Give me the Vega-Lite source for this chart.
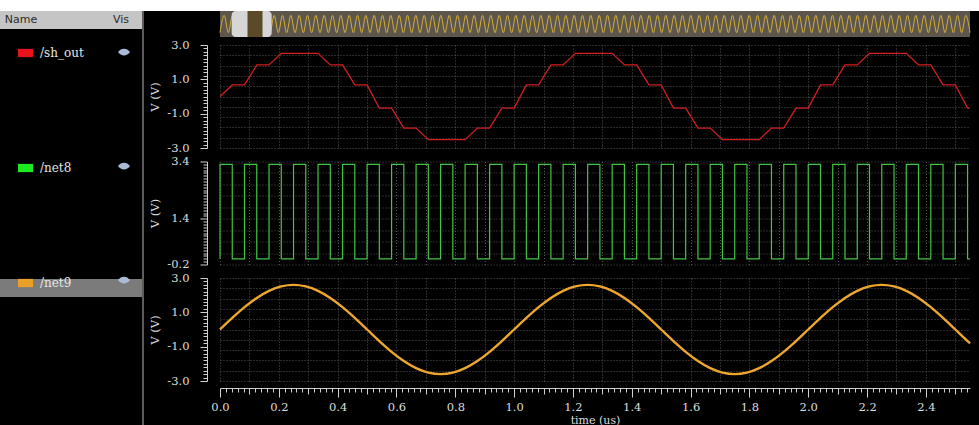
{
"$schema": "https://vega.github.io/schema/vega-lite/v6.json",
"background": "#000000",
"padding": 0,
"spacing": 0,
"bounds": "flush",
"config": {
  "view": {"stroke": null},
  "axis": {"labelFont": "DejaVu Serif", "labelFontSize": 11.5, "labelColor": "#dddddd", "titleFont": "DejaVu Serif", "titleFontSize": 11.5, "titleFontWeight": "normal", "titleColor": "#dddddd", "domainColor": "#d0d0d0", "tickColor": "#d0d0d0", "gridColor": "#555555", "gridDash": [1, 2], "gridWidth": 1}
},
"vconcat": [
  {"width": 979, "height": 11, "view": {"fill": "#ffffff", "stroke": null}, "data": {"values": [{}]}, "mark": {"type": "point", "opacity": 0}},
  {"hconcat": [
    {"width": 143, "height": 414, "view": {"fill": "#000000", "stroke": null},
     "layer": [
       {"data": {"values": [{"row": "Name"}]}, "mark": {"type": "rect", "color": "#c5c5c5"},
        "encoding": {"y": {"field": "row", "type": "nominal", "scale": {"type": "band", "domain": ["Name", "/sh_out", "/net8", "/net9"], "range": [0, 286], "paddingInner": 0.7985, "paddingOuter": 0}, "axis": null}}},
       {"data": {"values": [{"row": "/net9"}]}, "mark": {"type": "rect", "color": "#7b7b7b"},
        "encoding": {"y": {"field": "row", "type": "nominal", "axis": null}}},
       {"data": {"values": [{"row": "Name", "h": "Name"}, {"row": "Name", "h": "Vis"}]},
        "mark": {"type": "text", "font": "DejaVu Sans", "fontSize": 11, "color": "#2b2b2b"},
        "encoding": {"y": {"field": "row", "type": "nominal", "axis": null}, "x": {"field": "h", "type": "nominal", "scale": {"type": "point", "range": [21, 121], "padding": 0}, "axis": null}, "text": {"field": "h"}}},
       {"data": {"values": [{}]}, "mark": {"type": "rule", "color": "#5c5c5c", "strokeWidth": 2}, "encoding": {"x": {"value": "width"}}}
     ]},
    {"vconcat": [
      {"width": 750, "height": 26, "view": {"fill": "#5e564c", "stroke": null},
       "layer": [
        {"data": {"values": [
{"k":0,"v":-1},{"k":0.5,"v":1},{"k":1,"v":-1},{"k":1.5,"v":1},{"k":2,"v":-1},{"k":2.5,"v":1},{"k":3,"v":-1},{"k":3.5,"v":1},{"k":4,"v":-1},{"k":4.5,"v":1},
{"k":5,"v":-1},{"k":5.5,"v":1},{"k":6,"v":-1},{"k":6.5,"v":1},{"k":7,"v":-1},{"k":7.5,"v":1},{"k":8,"v":-1},{"k":8.5,"v":1},{"k":9,"v":-1},{"k":9.5,"v":1},
{"k":10,"v":-1},{"k":10.5,"v":1},{"k":11,"v":-1},{"k":11.5,"v":1},{"k":12,"v":-1},{"k":12.5,"v":1},{"k":13,"v":-1},{"k":13.5,"v":1},{"k":14,"v":-1},{"k":14.5,"v":1},
{"k":15,"v":-1},{"k":15.5,"v":1},{"k":16,"v":-1},{"k":16.5,"v":1},{"k":17,"v":-1},{"k":17.5,"v":1},{"k":18,"v":-1},{"k":18.5,"v":1},{"k":19,"v":-1},{"k":19.5,"v":1},
{"k":20,"v":-1},{"k":20.5,"v":1},{"k":21,"v":-1},{"k":21.5,"v":1},{"k":22,"v":-1},{"k":22.5,"v":1},{"k":23,"v":-1},{"k":23.5,"v":1},{"k":24,"v":-1},{"k":24.5,"v":1},
{"k":25,"v":-1},{"k":25.5,"v":1},{"k":26,"v":-1},{"k":26.5,"v":1},{"k":27,"v":-1},{"k":27.5,"v":1},{"k":28,"v":-1},{"k":28.5,"v":1},{"k":29,"v":-1},{"k":29.5,"v":1},
{"k":30,"v":-1},{"k":30.5,"v":1},{"k":31,"v":-1},{"k":31.5,"v":1},{"k":32,"v":-1},{"k":32.5,"v":1},{"k":33,"v":-1},{"k":33.5,"v":1},{"k":34,"v":-1},{"k":34.5,"v":1},
{"k":35,"v":-1},{"k":35.5,"v":1},{"k":36,"v":-1},{"k":36.5,"v":1},{"k":37,"v":-1},{"k":37.5,"v":1},{"k":38,"v":-1},{"k":38.5,"v":1},{"k":39,"v":-1},{"k":39.5,"v":1},
{"k":40,"v":-1},{"k":40.5,"v":1},{"k":41,"v":-1},{"k":41.5,"v":1},{"k":42,"v":-1},{"k":42.5,"v":1},{"k":43,"v":-1},{"k":43.5,"v":1},{"k":44,"v":-1},{"k":44.5,"v":1},
{"k":45,"v":-1},{"k":45.5,"v":1},{"k":46,"v":-1},{"k":46.5,"v":1},{"k":47,"v":-1},{"k":47.5,"v":1},{"k":48,"v":-1},{"k":48.5,"v":1},{"k":49,"v":-1},{"k":49.5,"v":1},
{"k":50,"v":-1},{"k":50.5,"v":1},{"k":51,"v":-1},{"k":51.5,"v":1},{"k":52,"v":-1},{"k":52.5,"v":1},{"k":53,"v":-1},{"k":53.5,"v":1},{"k":54,"v":-1},{"k":54.5,"v":1},
{"k":55,"v":-1},{"k":55.5,"v":1},{"k":56,"v":-1},{"k":56.5,"v":1},{"k":57,"v":-1},{"k":57.5,"v":1},{"k":58,"v":-1},{"k":58.5,"v":1},{"k":59,"v":-1},{"k":59.5,"v":1},
{"k":60,"v":-1},{"k":60.5,"v":1},{"k":61,"v":-1},{"k":61.5,"v":1},{"k":62,"v":-1},{"k":62.5,"v":1},{"k":63,"v":-1},{"k":63.5,"v":1},{"k":64,"v":-1},{"k":64.5,"v":1},
{"k":65,"v":-1},{"k":65.5,"v":1},{"k":66,"v":-1},{"k":66.5,"v":1},{"k":67,"v":-1},{"k":67.5,"v":1},{"k":68,"v":-1},{"k":68.5,"v":1},{"k":69,"v":-1},{"k":69.5,"v":1},
{"k":70,"v":-1},{"k":70.5,"v":1},{"k":71,"v":-1},{"k":71.5,"v":1},{"k":72,"v":-1},{"k":72.5,"v":1},{"k":73,"v":-1},{"k":73.5,"v":1},{"k":74,"v":-1},{"k":74.5,"v":1},
{"k":75,"v":-1},{"k":75.5,"v":1},{"k":76,"v":-1},{"k":76.5,"v":1},{"k":77,"v":-1},{"k":77.5,"v":1},{"k":78,"v":-1},{"k":78.5,"v":1},{"k":79,"v":-1},{"k":79.5,"v":1},
{"k":80,"v":-1},{"k":80.5,"v":1},{"k":81,"v":-1},{"k":81.5,"v":1},{"k":82,"v":-1},{"k":82.5,"v":1},{"k":83,"v":-1},{"k":83.5,"v":1},{"k":84,"v":-1},{"k":84.5,"v":1},
{"k":85,"v":-1},{"k":85.5,"v":1},{"k":86,"v":-1},{"k":86.5,"v":1},{"k":87,"v":-1},{"k":87.5,"v":1},{"k":88,"v":-1},{"k":88.5,"v":1},{"k":89,"v":-1},{"k":89.5,"v":1},
{"k":90,"v":-1}
        ]},
         "mark": {"type": "line", "color": "#cfae3a", "strokeWidth": 1, "interpolate": "monotone"},
         "encoding": {"x": {"field": "k", "type": "quantitative", "scale": {"domain": [0, 90], "nice": false, "zero": false}, "axis": null}, "y": {"field": "v", "type": "quantitative", "scale": {"domain": [-1.5, 1.5], "nice": false}, "axis": null}}},
        {"data": {"values": [{"a": 1.4, "b": 6.2}]}, "mark": {"type": "rect", "color": "#d6d6d6", "cornerRadius": 4}, "encoding": {"x": {"field": "a", "type": "quantitative"}, "x2": {"field": "b"}}},
        {"data": {"values": [{"a": 3.3, "b": 5.1}]}, "mark": {"type": "rect", "color": "#5b4a28"}, "encoding": {"x": {"field": "a", "type": "quantitative"}, "x2": {"field": "b"}}}
       ]},
      {"vconcat": [
          {"width": 750, "height": 103,
           "layer": [
            {"data": {"values": [
{"t":0,"v":0},{"t":0.04167,"v":0.673},{"t":0.08333,"v":0.673},{"t":0.125,"v":1.838},{"t":0.16667,"v":1.838},{"t":0.20833,"v":2.511},{"t":0.25,"v":2.511},{"t":0.29167,"v":2.511},{"t":0.33333,"v":2.511},{"t":0.375,"v":1.838},{"t":0.41667,"v":1.838},{"t":0.45833,"v":0.673},{"t":0.5,"v":0.673},{"t":0.54167,"v":-0.673},{"t":0.58333,"v":-0.673},{"t":0.625,"v":-1.838},{"t":0.66667,"v":-1.838},{"t":0.70833,"v":-2.511},{"t":0.75,"v":-2.511},{"t":0.79167,"v":-2.511},{"t":0.83333,"v":-2.511},{"t":0.875,"v":-1.838},{"t":0.91667,"v":-1.838},{"t":0.95833,"v":-0.673},{"t":1,"v":-0.673},
{"t":1.04167,"v":0.673},{"t":1.08333,"v":0.673},{"t":1.125,"v":1.838},{"t":1.16667,"v":1.838},{"t":1.20833,"v":2.511},{"t":1.25,"v":2.511},{"t":1.29167,"v":2.511},{"t":1.33333,"v":2.511},{"t":1.375,"v":1.838},{"t":1.41667,"v":1.838},{"t":1.45833,"v":0.673},{"t":1.5,"v":0.673},{"t":1.54167,"v":-0.673},{"t":1.58333,"v":-0.673},{"t":1.625,"v":-1.838},{"t":1.66667,"v":-1.838},{"t":1.70833,"v":-2.511},{"t":1.75,"v":-2.511},{"t":1.79167,"v":-2.511},{"t":1.83333,"v":-2.511},{"t":1.875,"v":-1.838},{"t":1.91667,"v":-1.838},{"t":1.95833,"v":-0.673},{"t":2,"v":-0.673},
{"t":2.04167,"v":0.673},{"t":2.08333,"v":0.673},{"t":2.125,"v":1.838},{"t":2.16667,"v":1.838},{"t":2.20833,"v":2.511},{"t":2.25,"v":2.511},{"t":2.29167,"v":2.511},{"t":2.33333,"v":2.511},{"t":2.375,"v":1.838},{"t":2.41667,"v":1.838},{"t":2.45833,"v":0.673},{"t":2.5,"v":0.673},{"t":2.54167,"v":-0.673},{"t":2.55,"v":-0.673}
            ]},
             "mark": {"type": "line", "color": "#d21e1e", "strokeWidth": 1.3},
             "encoding": {
               "x": {"field": "t", "type": "quantitative", "scale": {"domain": [0, 2.55], "nice": false, "zero": false}, "axis": {"title": null, "labels": false, "ticks": false, "domain": false, "tickCount": 26, "grid": true}},
               "y": {"field": "v", "type": "quantitative", "scale": {"domain": [-3, 3], "nice": false, "zero": false},
                     "axis": {"title": "V (V)", "offset": 13, "tickCount": 30, "labelOverlap": false, "labelBound": false, "labelPadding": 11, "titlePadding": 6,
                              "labelExpr": "abs((datum.value+3)/2-round((datum.value+3)/2))<0.01 ? replace(format(datum.value,'.1f'),'\u2212','-') : ''",
                              "tickSize": {"condition": {"test": "abs((datum.value+3)/2-round((datum.value+3)/2))<0.01", "value": 7}, "value": 4},
                              "gridOpacity": {"condition": {"test": "abs((datum.value+3)/0.6-round((datum.value+3)/0.6))<0.01", "value": 1}, "value": 0}}}}},
            {"data": {"values": [{"name": "/sh_out"}]}, "mark": {"type": "point", "filled": true, "opacity": 0},
             "encoding": {"color": {"field": "name", "type": "nominal", "scale": {"domain": ["/sh_out", "/net8", "/net9"], "range": ["#e8141c", "#1ee81e", "#e8a028"]},
               "legend": {"orient": "none", "legendX": 18, "legendY": 45.5, "title": null, "symbolType": "M-1,-0.55H1V0.55H-1Z", "symbolSize": 225, "symbolStrokeWidth": 0, "symbolOpacity": 1, "labelFont": "DejaVu Serif", "labelFontSize": 12, "labelColor": "#e6e6e6", "labelOffset": 7, "rowPadding": 101, "padding": 0}}}}
           ]},
          {"width": 750, "height": 103,
           "layer": [
            {"data": {"values": [
{"t":0,"v":0},{"t":0,"v":3.3},{"t":0.04167,"v":0},{"t":0.08333,"v":3.3},{"t":0.125,"v":0},{"t":0.16667,"v":3.3},{"t":0.20833,"v":0},{"t":0.25,"v":3.3},{"t":0.29167,"v":0},{"t":0.33333,"v":3.3},{"t":0.375,"v":0},{"t":0.41667,"v":3.3},{"t":0.45833,"v":0},{"t":0.5,"v":3.3},{"t":0.54167,"v":0},{"t":0.58333,"v":3.3},{"t":0.625,"v":0},{"t":0.66667,"v":3.3},{"t":0.70833,"v":0},{"t":0.75,"v":3.3},{"t":0.79167,"v":0},{"t":0.83333,"v":3.3},{"t":0.875,"v":0},{"t":0.91667,"v":3.3},{"t":0.95833,"v":0},
{"t":1,"v":3.3},{"t":1.04167,"v":0},{"t":1.08333,"v":3.3},{"t":1.125,"v":0},{"t":1.16667,"v":3.3},{"t":1.20833,"v":0},{"t":1.25,"v":3.3},{"t":1.29167,"v":0},{"t":1.33333,"v":3.3},{"t":1.375,"v":0},{"t":1.41667,"v":3.3},{"t":1.45833,"v":0},{"t":1.5,"v":3.3},{"t":1.54167,"v":0},{"t":1.58333,"v":3.3},{"t":1.625,"v":0},{"t":1.66667,"v":3.3},{"t":1.70833,"v":0},{"t":1.75,"v":3.3},{"t":1.79167,"v":0},{"t":1.83333,"v":3.3},{"t":1.875,"v":0},{"t":1.91667,"v":3.3},{"t":1.95833,"v":0},
{"t":2,"v":3.3},{"t":2.04167,"v":0},{"t":2.08333,"v":3.3},{"t":2.125,"v":0},{"t":2.16667,"v":3.3},{"t":2.20833,"v":0},{"t":2.25,"v":3.3},{"t":2.29167,"v":0},{"t":2.33333,"v":3.3},{"t":2.375,"v":0},{"t":2.41667,"v":3.3},{"t":2.45833,"v":0},{"t":2.5,"v":3.3},{"t":2.54167,"v":0},{"t":2.55,"v":0}
            ]},
             "mark": {"type": "line", "color": "#44c444", "strokeWidth": 1.2, "interpolate": "step-after"},
             "encoding": {
               "x": {"field": "t", "type": "quantitative", "scale": {"domain": [0, 2.55], "nice": false, "zero": false}, "axis": {"title": null, "labels": false, "ticks": false, "domain": false, "tickCount": 26, "grid": true}},
               "y": {"field": "v", "type": "quantitative", "scale": {"domain": [-0.2, 3.4], "nice": false, "zero": false},
                     "axis": {"title": "V (V)", "offset": 13, "tickCount": 36, "labelOverlap": false, "labelBound": false, "labelPadding": 11, "titlePadding": 6,
                              "labelExpr": "(abs(datum.value+0.2)<0.01||abs(datum.value-1.4)<0.01||abs(datum.value-3.4)<0.01) ? replace(format(datum.value,'.1f'),'\u2212','-') : ''",
                              "tickSize": {"condition": {"test": "abs(datum.value+0.2)<0.01||abs(datum.value-1.4)<0.01||abs(datum.value-3.4)<0.01", "value": 7}, "value": 4},
                              "gridOpacity": {"condition": {"test": "abs((datum.value+0.2)/0.4-round((datum.value+0.2)/0.4))<0.01", "value": 1}, "value": 0}}},
               "order": {"value": null}}},
            {"data": {"values": [{"eye": "e2"}]}, "mark": {"type": "point", "filled": true, "opacity": 0, "color": "#a9bbd6"},
             "encoding": {"shape": {"field": "eye", "type": "nominal",
               "scale": {"domain": ["e1", "e2", "e3"], "range": ["M-1,0C-0.5,-0.75 0.5,-0.75 1,0C0.5,0.75 -0.5,0.75 -1,0Z", "M-1,0C-0.5,-0.75 0.5,-0.75 1,0C0.5,0.75 -0.5,0.75 -1,0Z", "M-1,0C-0.5,-0.75 0.5,-0.75 1,0C0.5,0.75 -0.5,0.75 -1,0Z"]},
               "legend": {"orient": "none", "legendX": 118, "legendY": 46, "title": null, "symbolSize": 144, "symbolFillColor": "#a9bbd6", "symbolStrokeWidth": 0, "symbolOpacity": 1, "labelExpr": "''", "labelFontSize": 1, "labelOffset": 0, "rowPadding": 104, "padding": 0}}}}
           ]},
        {"width": 750, "height": 103,
         "data": {"values": [
{"t":0,"v":0},{"t":0.04167,"v":0.673},{"t":0.08333,"v":1.3},{"t":0.125,"v":1.838},{"t":0.16667,"v":2.252},{"t":0.20833,"v":2.511},{"t":0.25,"v":2.6},{"t":0.29167,"v":2.511},{"t":0.33333,"v":2.252},{"t":0.375,"v":1.838},{"t":0.41667,"v":1.3},{"t":0.45833,"v":0.673},{"t":0.5,"v":0},{"t":0.54167,"v":-0.673},{"t":0.58333,"v":-1.3},{"t":0.625,"v":-1.838},{"t":0.66667,"v":-2.252},{"t":0.70833,"v":-2.511},{"t":0.75,"v":-2.6},{"t":0.79167,"v":-2.511},{"t":0.83333,"v":-2.252},{"t":0.875,"v":-1.838},{"t":0.91667,"v":-1.3},{"t":0.95833,"v":-0.673},
{"t":1,"v":0},{"t":1.04167,"v":0.673},{"t":1.08333,"v":1.3},{"t":1.125,"v":1.838},{"t":1.16667,"v":2.252},{"t":1.20833,"v":2.511},{"t":1.25,"v":2.6},{"t":1.29167,"v":2.511},{"t":1.33333,"v":2.252},{"t":1.375,"v":1.838},{"t":1.41667,"v":1.3},{"t":1.45833,"v":0.673},{"t":1.5,"v":0},{"t":1.54167,"v":-0.673},{"t":1.58333,"v":-1.3},{"t":1.625,"v":-1.838},{"t":1.66667,"v":-2.252},{"t":1.70833,"v":-2.511},{"t":1.75,"v":-2.6},{"t":1.79167,"v":-2.511},{"t":1.83333,"v":-2.252},{"t":1.875,"v":-1.838},{"t":1.91667,"v":-1.3},{"t":1.95833,"v":-0.673},
{"t":2,"v":0},{"t":2.04167,"v":0.673},{"t":2.08333,"v":1.3},{"t":2.125,"v":1.838},{"t":2.16667,"v":2.252},{"t":2.20833,"v":2.511},{"t":2.25,"v":2.6},{"t":2.29167,"v":2.511},{"t":2.33333,"v":2.252},{"t":2.375,"v":1.838},{"t":2.41667,"v":1.3},{"t":2.45833,"v":0.673},{"t":2.5,"v":0},{"t":2.54167,"v":-0.673},{"t":2.55,"v":-0.803}
         ]},
         "mark": {"type": "line", "color": "#eda72e", "strokeWidth": 2.4, "interpolate": "monotone"},
         "encoding": {
           "x": {"field": "t", "type": "quantitative", "scale": {"domain": [0, 2.55], "nice": false, "zero": false},
                 "axis": {"title": "time (us)", "offset": 7, "tickCount": 128, "labelOverlap": false, "labelFlush": false, "labelBound": false, "labelPadding": 4, "titlePadding": 2, "titleFontSize": 11,
                          "labelExpr": "abs(datum.value*5-round(datum.value*5))<0.01 ? format(datum.value,'.1f') : ''",
                          "tickSize": {"condition": [{"test": "abs(datum.value*5-round(datum.value*5))<0.01", "value": 9}, {"test": "abs(datum.value*10-round(datum.value*10))<0.01", "value": 6}], "value": 4},
                          "gridOpacity": {"condition": {"test": "abs(datum.value*10-round(datum.value*10))<0.01", "value": 1}, "value": 0}}},
           "y": {"field": "v", "type": "quantitative", "scale": {"domain": [-3, 3], "nice": false, "zero": false},
                 "axis": {"title": "V (V)", "offset": 13, "tickCount": 30, "labelOverlap": false, "labelBound": false, "labelPadding": 11, "titlePadding": 6,
                          "labelExpr": "abs((datum.value+3)/2-round((datum.value+3)/2))<0.01 ? replace(format(datum.value,'.1f'),'\u2212','-') : ''",
                          "tickSize": {"condition": {"test": "abs((datum.value+3)/2-round((datum.value+3)/2))<0.01", "value": 7}, "value": 4},
                          "gridOpacity": {"condition": {"test": "abs((datum.value+3)/0.6-round((datum.value+3)/0.6))<0.01", "value": 1}, "value": 0}}}}}
      ], "spacing": 13.5, "bounds": "flush"}
    ], "spacing": 8, "bounds": "flush"}
  ], "spacing": 77, "bounds": "flush"}
]
}
